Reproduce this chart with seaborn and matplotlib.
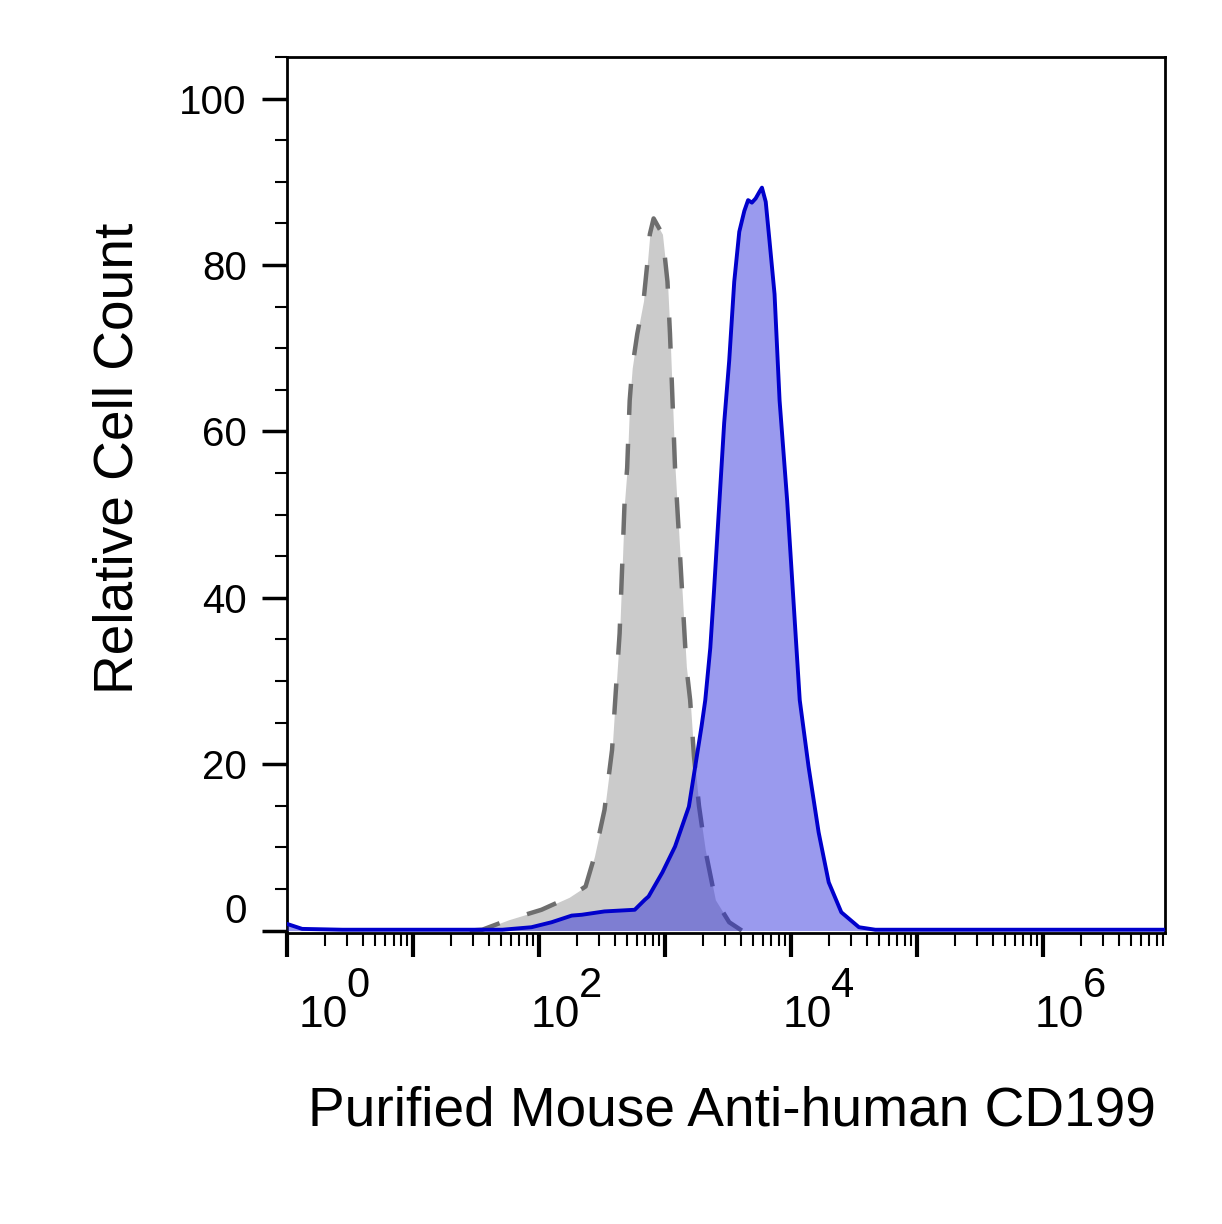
import numpy as np
import matplotlib
matplotlib.use('Agg')
import matplotlib.pyplot as plt
import seaborn as sns
from matplotlib.ticker import LogLocator, NullFormatter, MultipleLocator

# isotype control (grey, dashed): log10 intensity -> relative cell count
ctrl_log = [1.45, 1.55, 1.76, 2.02, 2.24, 2.37, 2.44, 2.52, 2.58, 2.60,
            2.64, 2.66, 2.68, 2.70, 2.71, 2.72, 2.74, 2.78, 2.83, 2.86,
            2.88, 2.91, 2.98, 3.02, 3.04, 3.06, 3.08, 3.11, 3.14, 3.17,
            3.20, 3.23, 3.27, 3.32, 3.40, 3.51, 3.61]
ctrl_pct = [0.0, 0.1, 1.3, 2.5, 4.0, 5.3, 8.9, 14.5, 21.7, 26.5,
            35.7, 43.6, 51.7, 55.6, 59.7, 63.7, 67.6, 71.7, 75.7, 80.2,
            83.7, 85.6, 83.7, 78.0, 71.7, 63.7, 55.6, 47.7, 39.7, 31.7,
            27.7, 21.0, 15.0, 9.7, 3.7, 1.0, 0.0]

# CD199 stained (blue)
cd199_log = [0.00, 0.02, 0.12, 0.44, 1.07, 1.71, 1.94, 2.10, 2.26, 2.34,
             2.52, 2.76, 2.84, 2.87, 2.98, 3.08, 3.19, 3.24, 3.29, 3.32,
             3.36, 3.39, 3.43, 3.47, 3.51, 3.55, 3.59, 3.63, 3.66, 3.69,
             3.72, 3.75, 3.77, 3.80, 3.83, 3.87, 3.91, 3.97, 4.02, 4.07,
             4.14, 4.22, 4.30, 4.40, 4.54, 4.67, 5.67, 6.97]
cd199_pct = [0.8, 0.7, 0.2, 0.1, 0.1, 0.1, 0.4, 1.0, 1.8, 1.9,
             2.3, 2.5, 3.7, 4.1, 7.0, 10.1, 14.9, 19.7, 24.5, 27.7,
             34.0, 41.0, 51.0, 61.0, 68.5, 78.0, 84.0, 86.5, 87.8, 87.5,
             88.0, 88.8, 89.3, 87.6, 82.9, 76.5, 63.7, 51.7, 39.7, 27.7,
             19.7, 11.8, 5.8, 2.2, 0.4, 0.1, 0.1, 0.1]

y_ticks = [0, 20, 40, 60, 80, 100]
x_label_exps = [0, 2, 4, 6]

ctrl_x = 10 ** np.array(ctrl_log)
cd199_x = 10 ** np.array(cd199_log)

sns.set_style('ticks')
plt.rcParams['font.family'] = ['Liberation Sans', 'DejaVu Sans']
plt.rcParams['text.color'] = 'black'
plt.rcParams['axes.labelcolor'] = 'black'
plt.rcParams['xtick.color'] = 'black'
plt.rcParams['ytick.color'] = 'black'

fig = plt.figure(figsize=(12.22, 12.24), dpi=100)
ax = fig.add_axes([0.2349, 0.2377, 0.7185, 0.7157])

# grey control histogram
ax.fill_between(ctrl_x, ctrl_pct, 0, color='#cbcbcb', lw=0, zorder=1)
sns.lineplot(x=ctrl_x, y=ctrl_pct, ax=ax, color='#6e6e6e', lw=3.2,
             linestyle='--', zorder=2, sort=False)
ax.lines[-1].set_dashes((7, 6.5))

# blue stained histogram
ax.fill_between(cd199_x, cd199_pct, 0, color=(40/255, 40/255, 220/255, 0.47),
                lw=0, zorder=3)
sns.lineplot(x=cd199_x, y=cd199_pct, ax=ax, color='#0000cc', lw=2.8,
             zorder=4, sort=False)
ax.lines[-1].set_solid_joinstyle('round')

ax.set_xscale('log')
ax.set_xlim(1, 10 ** 6.97)
ax.set_ylim(-0.3, 105)

ax.xaxis.set_major_locator(LogLocator(base=10, numticks=20))
ax.xaxis.set_minor_locator(LogLocator(base=10, subs=np.arange(2, 10), numticks=20))
ax.xaxis.set_major_formatter(NullFormatter())
ax.xaxis.set_minor_formatter(NullFormatter())

ax.yaxis.set_major_locator(MultipleLocator(20))
ax.yaxis.set_minor_locator(MultipleLocator(5))
ax.set_yticks(y_ticks)
ax.set_yticklabels([str(t) for t in y_ticks])

ax.tick_params(axis='y', which='major', length=18, width=2.5, pad=11,
               labelsize=29, direction='out', color='black', labelcolor='black')
ax.tick_params(axis='y', which='minor', length=9, width=1.5, direction='out')
ax.tick_params(axis='x', which='major', length=17, width=3, direction='out')
ax.tick_params(axis='x', which='minor', length=9, width=1.5, direction='out')
ax.yaxis.get_major_ticks()[0].label1.set_verticalalignment('bottom')

for s in ax.spines.values():
    s.set_linewidth(2)
    s.set_color('black')

# decade labels: "10" with a full size exponent
for e in x_label_exps:
    shift = 14 if e == 0 else 0
    ax.annotate('10', xy=(10 ** e, 0), xycoords=('data', 'axes fraction'),
                xytext=(-6 + shift, -68), textcoords='offset points',
                ha='left', va='baseline', fontsize=32)
    ax.annotate(str(e), xy=(10 ** e, 0), xycoords=('data', 'axes fraction'),
                xytext=(29 + shift, -46), textcoords='offset points',
                ha='left', va='baseline', fontsize=30)

ax.set_xlabel('Purified Mouse Anti-human CD199', fontsize=39.6)
ax.xaxis.set_label_coords(0.507, -0.174)
ax.set_ylabel('Relative Cell Count', fontsize=39.6)
ax.yaxis.set_label_coords(-0.162, 0.542)

fig.savefig('out.png', dpi=100)
